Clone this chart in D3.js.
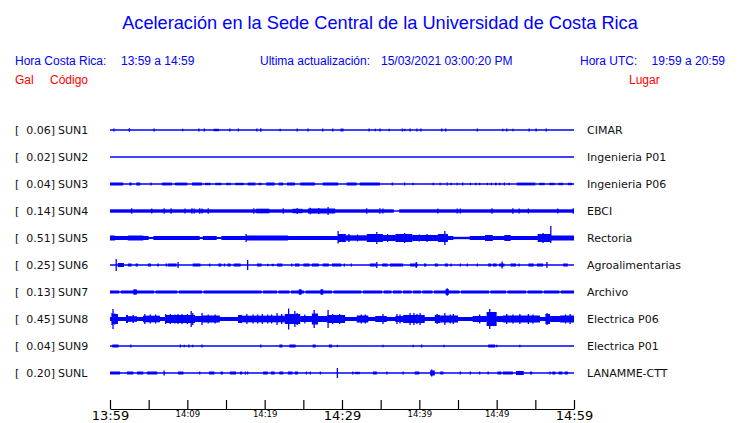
<!DOCTYPE html>
<html><head><meta charset="utf-8">
<script src="https://cdn.jsdelivr.net/npm/d3@7"></script>
<style>
html,body{margin:0;padding:0;background:#fff;}
svg{display:block;}
</style></head>
<body>
<script>
// ---------- DATA ----------
const title = "Aceleración en la Sede Central de la Universidad de Costa Rica";
const headerLeftLabel = "Hora Costa Rica:", headerLeftValue = "13:59 a 14:59";
const headerMidLabel = "Ultima actualización:", headerMidValue = "15/03/2021 03:00:20 PM";
const headerRightLabel = "Hora UTC:", headerRightValue = "19:59 a 20:59";

const codes  = ["SUN1","SUN2","SUN3","SUN4","SUN5","SUN6","SUN7","SUN8","SUN9","SUNL"];
const peaks  = ["0.06","0.02","0.04","0.14","0.51","0.25","0.13","0.45","0.04","0.20"];
const places = ["CIMAR","Ingenieria P01","Ingenieria P06","EBCI","Rectoria","Agroalimentarias","Archivo","Electrica P06","Electrica P01","LANAMME-CTT"];

// minutes after 13:59 for ticks and labels
const tickMinutes = [0,5,10,15,20,25,30,35,40,45,50,55,60];
const tickLabels  = ["13:59","","14:09","","14:19","","14:29","","14:39","","14:49","","14:59"];
const bigLabels   = ["13:59","14:29","14:59"];

// envelope segments [startMin, endMin, relAmplitude] and spikes [min, relAmpUp, relAmpDown?]
const seg_SUN1 = [[13.4,14.1,0.12]];
const spk_SUN1 = [[0.5,.15],[2.5,.17],[5.7,.15],[9.4,.12],[11.5,.15],[12.2,.15],[15.5,.15],[16.6,.15],[19.0,.15],[19.5,.17],[22.0,.12],[24.2,.15],[25.6,.15],[27.5,.15],[28.8,.15],[29.9,.15],[30.1,.15],[33.5,.15],[34.3,.12],[34.9,.15],[36.1,.12],[37.8,.15],[38.1,.12],[38.8,.15],[39.7,.15],[40.2,.15],[42.9,.15],[43.4,.15],[47.5,.15],[50.8,.12],[51.3,.15],[52.1,.12],[54.2,.15],[55.1,.15],[56.4,.15]];
const seg_SUN2 = [];
const spk_SUN2 = [];
const seg_SUN3 = [[0,1.7,.15],[2.5,2.8,.15],[3.4,3.9,.15],[6.7,8.0,.14],[8.4,10.0,.14],[10.6,11.9,.15],[12.3,13.0,.12],[13.6,14.4,.12],[15.0,15.6,.12],[16.2,17.3,.12],[17.8,18.8,.14],[19.2,19.6,.12],[20.2,21.3,.15],[21.8,22.4,.14],[22.9,23.9,.15],[24.6,26.5,.15],[27.5,29.5,.15],[30.6,31.9,.15],[32.3,34.9,.15],[52.6,55.0,.14],[55.5,56.2,.12],[56.8,57.5,.12],[58.0,58.6,.12],[59.2,59.8,.12]];
const spk_SUN3 = [[5.3,.15],[36.5,.15],[38.1,.15],[39.2,.12],[41.8,.12],[42.7,.12],[43.6,.15],[44.1,.12],[44.9,.12],[45.6,.15],[46.6,.12],[47.3,.12],[47.8,.12],[48.8,.12],[49.3,.12],[49.9,.15],[50.4,.12],[51.0,.15],[51.6,.12]];
const seg_SUN4 = [[0,36.7,.17],[37.4,60,.17],[18.9,20.6,.23],[23.6,24.9,.22],[25.6,29.1,.25]];
const spk_SUN4 = [[2.8,.27],[5.4,.25],[7.0,.27],[7.9,.27],[9.7,.25],[10.6,.27],[10.9,.25],[11.6,.27],[11.9,.25],[12.7,.27],[18.6,.27],[22.4,.27],[24.2,.3],[25.9,.32],[27.0,.3],[28.2,.4],[33.2,.27],[34.9,.27],[35.3,.25],[42.4,.25],[44.9,.25],[45.3,.25],[49.4,.27],[52.1,.27],[52.9,.25],[54.1,.25],[57.9,.25],[59.9,.27]];
const seg_SUN5 = [[0,5.0,.2],[5.6,11.6,.2],[12.0,13.8,.2],[14.4,44.4,.2],[46.5,60,.2],[5.0,5.6,.1],[11.6,12.0,.1],[13.8,14.4,.1],[44.4,46.5,.12],[0,0.65,.25],[2.3,4.3,.25],[17.6,23.0,.25],[29.5,30.5,.4],[30.5,33.2,.27],[33.2,35.3,.4],[35.3,36.9,.3],[36.9,39.1,.4],[39.1,42.4,.3],[42.4,43.7,.4],[48.5,49.5,.3],[51.0,51.8,.3],[55.3,57.0,.4],[57.0,60,.25]];
const spk_SUN5 = [[17.6,.4],[29.5,.7,.55],[30.9,.4],[32.0,.35],[34.5,.6],[35.9,.4],[38.1,.5],[40.0,.35],[41.0,.4],[43.3,.7],[56.0,.5],[57.0,1.2,.5]];
const seg_SUN6 = [[1.0,1.8,.2],[2.3,2.8,.15],[3.3,3.6,.15],[4.9,5.3,.15],[6.1,6.3,.15],[7.2,7.4,.15],[7.5,8.6,.15],[10.7,11.7,.15],[14.0,14.4,.15],[15.2,15.6,.15],[16.0,16.9,.15],[19.0,19.6,.15],[20.3,20.5,.12],[20.9,21.2,.12],[21.6,22.3,.15],[23.9,24.5,.15],[25.0,25.8,.15],[26.1,27.0,.15],[27.5,28.3,.15],[28.7,29.9,.15],[33.6,34.4,.15],[35.2,35.9,.15],[36.2,37.9,.15],[38.8,39.8,.15],[40.6,40.9,.15],[42.0,42.4,.15],[43.3,43.7,.15],[48.9,49.3,.15],[49.5,50.0,.15],[50.3,51.0,.15],[51.8,52.5,.15],[54.1,54.8,.15],[55.2,56.0,.15],[58.6,59.2,.15]];
const spk_SUN6 = [[0.8,.6],[8.8,.3],[12.9,.15],[14.8,.15],[17.8,.5],[23.5,.15],[30.3,.15],[31.2,.15],[34.5,.3],[39.6,.3],[44.1,.15],[45.3,.15],[46.2,.15],[47.5,.15],[50.7,.35],[52.9,.15],[56.5,.3]];
const seg_SUN7 = [[0,1.2,.15],[1.4,5.7,.15],[5.9,8.7,.15],[8.9,11.9,.15],[12.1,19.6,.15],[19.8,21.6,.15],[21.8,23.2,.15],[23.4,25.1,.15],[25.3,27.4,.15],[27.6,28.7,.15],[28.9,32.5,.15],[32.7,35.2,.15],[35.4,36.4,.15],[36.6,37.7,.15],[37.9,39.0,.15],[39.2,40.2,.15],[40.4,41.7,.15],[41.9,45.2,.15],[45.4,49.0,.15],[49.2,51.2,.15],[51.4,53.8,.15],[54.0,55.9,.15],[56.1,58.1,.15],[58.3,60,.15],[3.0,3.5,.25],[24.4,24.8,.25],[27.2,27.6,.25],[43.4,43.8,.3]];
const spk_SUN7 = [[3.2,.28],[24.6,.28],[27.4,.28],[43.6,.38]];
const seg_SUN8 = [[0,60,.2],[0.26,1.03,.5],[2.07,2.33,.4],[2.33,3.49,.28],[4.27,6.47,.33],[7.11,11.0,.4],[11.0,11.9,.3],[11.9,14.2,.35],[16.55,17.07,.4],[17.07,22.6,.33],[22.6,24.6,.5],[24.6,26.1,.3],[26.1,26.9,.55],[26.9,28.1,.3],[28.1,30.4,.4],[31.9,33.4,.35],[34.3,35.8,.3],[36.9,37.9,.3],[37.9,40.7,.4],[42.0,42.7,.4],[42.7,45.0,.35],[46.9,48.7,.3],[48.7,50.0,.7],[50.0,50.8,.3],[50.8,55.6,.35],[56.3,56.9,.5],[56.9,58.2,.3],[58.2,60,.35]];
const spk_SUN8 = [[0.26,.6],[0.39,1.0],[0.6,.55],[3.0,.4],[4.5,.5],[5.2,.45],[5.9,.45],[7.2,.5],[7.8,.5],[8.4,.45],[8.8,.5],[9.3,.5],[10.0,.5],[10.5,.8],[10.7,.6],[11.9,.6],[12.7,.45],[13.6,.45],[17.7,.5],[18.5,.45],[19.1,.45],[19.7,.5],[20.4,.45],[20.9,.45],[21.6,.6],[22.2,.5],[23.1,1.05],[23.9,.8],[24.2,.6],[25.2,.45],[26.4,.9],[28.2,.9],[28.8,.5],[29.7,.5],[32.5,.45],[33.0,.45],[35.3,.5],[37.1,.5],[37.5,.45],[38.8,.6],[39.3,.6],[39.7,.5],[40.1,.6],[42.3,.5],[43.3,.6],[44.0,.45],[44.4,.5],[47.8,.45],[49.1,1.0],[51.3,.5],[52.1,.45],[53.0,.5],[54.1,.5],[54.7,.45],[56.5,.6],[58.9,.45],[59.5,.5]];
const seg_SUN9 = [[0.3,1.1,.15],[21.9,22.3,.15],[23.2,24.0,.15],[26.2,26.6,.15],[28.3,28.7,.15],[48.9,49.8,.15]];
const spk_SUN9 = [[2.7,.15],[9.1,.15],[9.6,.12],[10.2,.15],[10.7,.12],[11.9,.15],[19.5,.15],[29.4,.12],[35.3,.12],[39.2,.12],[40.3,.15],[43.2,.12],[50.0,.12],[53.0,.12]];
const seg_SUNL = [[0,1.3,.15],[2.2,3.0,.15],[3.5,4.3,.15],[4.8,6.1,.15],[8.8,9.5,.15],[12.8,13.5,.15],[14.3,14.6,.15],[15.5,16.3,.15],[16.8,17.1,.15],[19.8,20.4,.15],[20.8,21.3,.15],[21.9,22.4,.15],[23.0,23.6,.15],[23.9,24.3,.15],[31.7,32.3,.12],[34.0,34.5,.15],[39.4,40.0,.15],[41.4,42.0,.25],[42.7,43.1,.15],[50.1,50.6,.15],[50.8,52.1,.15],[52.5,53.5,.2],[54.3,54.6,.15],[57.2,57.6,.15],[58.0,58.5,.15],[58.8,59.2,.15]];
const spk_SUNL = [[7.0,.25],[11.6,.15],[17.5,.15],[17.8,.15],[25.4,.15],[25.9,.15],[27.2,.15],[29.4,.5],[31.4,.15],[35.8,.15],[37.9,.15],[41.6,.35],[45.3,.15],[46.6,.15],[47.8,.15],[48.9,.15],[56.9,.15]];

const segments = {SUN1:seg_SUN1,SUN2:seg_SUN2,SUN3:seg_SUN3,SUN4:seg_SUN4,SUN5:seg_SUN5,SUN6:seg_SUN6,SUN7:seg_SUN7,SUN8:seg_SUN8,SUN9:seg_SUN9,SUNL:seg_SUNL};
const spikes   = {SUN1:spk_SUN1,SUN2:spk_SUN2,SUN3:spk_SUN3,SUN4:spk_SUN4,SUN5:spk_SUN5,SUN6:spk_SUN6,SUN7:spk_SUN7,SUN8:spk_SUN8,SUN9:spk_SUN9,SUNL:spk_SUNL};

// ---------- DRAW ----------
const W = 740, H = 423;
const blue = "#0000ff", red = "#ff0000", ink = "#111";
const sans = "'Liberation Sans', Arial, sans-serif";
const dv = "'DejaVu Sans', sans-serif";

const svg = d3.select("body").append("svg").attr("width", W).attr("height", H);

const x = d3.scaleLinear().domain([0, 60]).range([110, 574]);
const y = d3.scalePoint().domain(codes).range([130, 373]);
const amp = d3.scaleLinear().domain([0, 1]).range([0, 10]);

// Title and header
svg.append("text").attr("x", 380).attr("y", 29).attr("text-anchor", "middle")
  .style("font-family", sans).style("font-size", "18.2px").attr("fill", blue).text(title);

const hdr = svg.append("g").style("font-family", sans).style("font-size", "12px").attr("fill", blue);
hdr.append("text").attr("x", 15).attr("y", 65).text(headerLeftLabel);
hdr.append("text").attr("x", 121).attr("y", 65).text(headerLeftValue);
hdr.append("text").attr("x", 260).attr("y", 65).text(headerMidLabel);
hdr.append("text").attr("x", 381).attr("y", 65).text(headerMidValue);
hdr.append("text").attr("x", 580).attr("y", 65).text(headerRightLabel);
hdr.append("text").attr("x", 725).attr("y", 65).attr("text-anchor", "end").text(headerRightValue);

const sub = svg.append("g").style("font-family", sans).style("font-size", "12px").attr("fill", red);
sub.append("text").attr("x", 15).attr("y", 84).text("Gal");
sub.append("text").attr("x", 50).attr("y", 84).text("Código");
sub.append("text").attr("x", 629).attr("y", 84).text("Lugar");

// Row labels
const rows = svg.append("g").selectAll("g").data(codes).join("g")
  .attr("transform", d => `translate(0,${y(d)})`);
rows.append("text").attr("x", 15).attr("y", 4).style("font-family", dv).style("font-size", "11px").attr("fill", ink).text("[");
rows.append("text").attr("x", 55).attr("y", 4).attr("text-anchor", "end").style("font-family", dv).style("font-size", "11px").attr("fill", ink)
  .text((d, i) => peaks[i] + "]");
rows.append("text").attr("x", 58).attr("y", 4).style("font-family", dv).style("font-size", "11px").attr("fill", ink).text(d => d);
rows.append("text").attr("x", 587).attr("y", 4).style("font-family", dv).style("font-size", "11px").attr("fill", ink)
  .text((d, i) => places[i]);

// Traces
rows.append("line").attr("x1", x(0)).attr("x2", x(60)).attr("y1", 0).attr("y2", 0)
  .attr("stroke", blue).attr("stroke-width", 1.3);
rows.each(function(code) {
  const g = d3.select(this);
  g.selectAll("rect.s").data(segments[code]).join("rect").attr("class", "s")
    .attr("x", d => x(d[0])).attr("width", d => Math.max(1, x(d[1]) - x(d[0])))
    .attr("y", d => -amp(d[2])).attr("height", d => 2 * amp(d[2]))
    .attr("fill", blue);
  g.selectAll("line.k").data(spikes[code]).join("line").attr("class", "k")
    .attr("x1", d => x(d[0])).attr("x2", d => x(d[0]))
    .attr("y1", d => -amp(d[1])).attr("y2", d => amp(d.length > 2 ? d[2] : d[1]))
    .attr("stroke", blue).attr("stroke-width", 1.3);
});

// Time axis
const axis = d3.axisBottom(x).tickValues(tickMinutes).tickSize(-9).tickSizeOuter(0).tickPadding(2)
  .tickFormat((d, i) => tickLabels[i]);
const ax = svg.append("g").attr("transform", "translate(0,409)").call(axis);
ax.select(".domain").attr("stroke", "#000").attr("stroke-width", 1.2);
ax.selectAll(".tick line").attr("stroke", "#000").attr("stroke-width", 1.2);
ax.selectAll(".tick text").attr("fill", "#000").style("font-family", dv)
  .style("font-size", function() { return bigLabels.includes(this.textContent) ? "13px" : "8.5px"; });
</script>
</body></html>
